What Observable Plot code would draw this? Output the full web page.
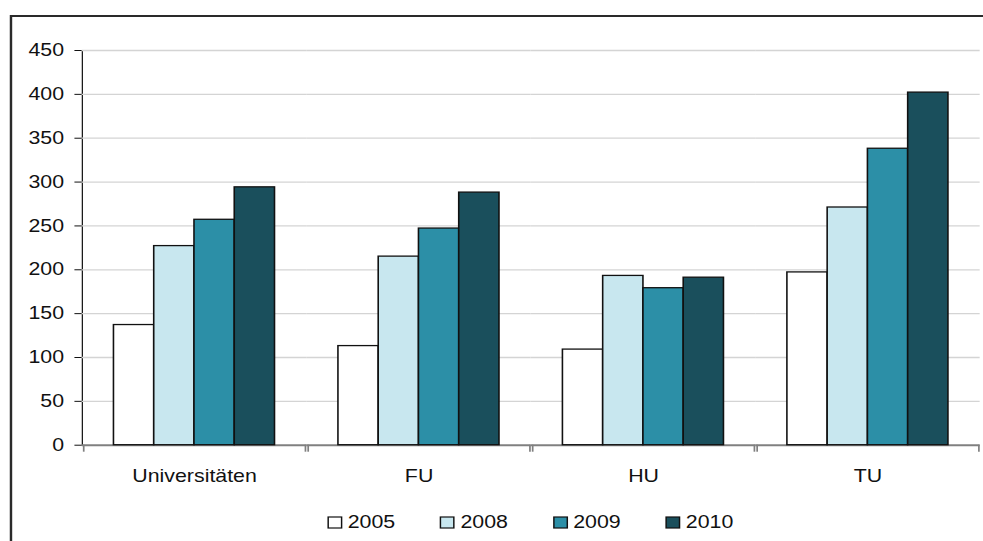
<!DOCTYPE html>
<html>
<head>
<meta charset="utf-8">
<script src="https://cdn.jsdelivr.net/npm/d3@7"></script>
<script src="https://cdn.jsdelivr.net/npm/@observablehq/plot@0.6"></script>
<style>
  html, body { margin: 0; padding: 0; background: #fff; overflow: hidden; }
  #wrap { position: relative; width: 806px; height: 541px; transform: scaleX(1.22); transform-origin: 0 0; font-family: "Liberation Sans", Arial, sans-serif; }
  #frame { position: absolute; left: 7.8px; top: 14.5px; width: 900px; height: 600px; border: 2px solid #2a2a2a; box-sizing: border-box; }
  #chart { position: absolute; left: 0; top: 0; }
  #legend { position: absolute; left: 269px; top: 512px; }
  .lg-swatches { margin: 0 !important; min-height: 0 !important; font-size: 17.5px !important; font-family: "Liberation Sans", Arial, sans-serif !important; color: #111 !important; flex-wrap: nowrap !important; }
  .lg-swatch { width: 92.4px; margin: 0 !important; }
  .lg-swatch svg { margin-right: 5px !important; overflow: visible; }
  .lg-swatch svg rect { stroke: #111; stroke-width: 1.2px; }
</style>
</head>
<body>
<div id="wrap">
  <div id="frame"></div>
  <div id="chart"></div>
  <div id="legend"></div>
</div>
<script>
const categories = ["Universitäten", "FU", "HU", "TU"];
const years = ["2005", "2008", "2009", "2010"];
const values2005 = [137, 113, 109, 197];
const values2008 = [227, 215, 193, 271];
const values2009 = [257, 247, 179, 338];
const values2010 = [294, 288, 191, 402];
const yearColors = ["#ffffff", "#c8e7ef", "#2c8fa7", "#1a4f5c"];
const yTicks = [0, 50, 100, 150, 200, 250, 300, 350, 400, 450];

const series = [values2005, values2008, values2009, values2010];
const data = categories.flatMap((c, i) => years.map((y, j) => ({category: c, year: y, value: series[j][i]})));

const W = 806, H = 495, mL = 66, mR = 2, mT = 50, mB = 50.3;
const padOuter = 0.72;
const facetW = (W - mL - mR) / categories.length;
const step = facetW / (years.length + 2 * padOuter);
const edge = (padOuter + 0.5) * step;

const chart = Plot.plot({
  width: W,
  height: H,
  marginLeft: mL,
  marginRight: mR,
  marginTop: mT,
  marginBottom: mB,
  style: {fontFamily: '"Liberation Sans", Arial, sans-serif', fontSize: "17.5px", color: "#111", background: "transparent"},
  fx: {domain: categories, padding: 0, label: null, tickSize: 0, tickPadding: 24.5, axis: "bottom"},
  x: {domain: years, paddingInner: 0, paddingOuter: padOuter, axis: null},
  y: {domain: [0, 450], ticks: yTicks, tickSize: 6, tickPadding: 9, label: null, line: true},
  color: {domain: years, range: yearColors},
  marks: [
    Plot.ruleY(yTicks.slice(1), {stroke: "#d4d4d4", strokeWidth: 1.3}),
    Plot.ruleY([0], {stroke: "#808080", strokeWidth: 2}),
    Plot.barY(data, {fx: "category", x: "year", y: "value", fill: "year", stroke: "#111", strokeWidth: 1.3}),
    Plot.ruleX([years[0]], {x: d => d, y1: 0, y2: 0, insetBottom: -7, dx: -edge, stroke: "#808080", strokeWidth: 1.4}),
    Plot.ruleX([years[years.length - 1]], {x: d => d, y1: 0, y2: 0, insetBottom: -7, dx: edge, stroke: "#808080", strokeWidth: 1.4})
  ]
});
document.getElementById("chart").appendChild(chart);
document.getElementById("legend").appendChild(chart.legend("color", {swatchSize: 11, className: "lg"}));
</script>
</body>
</html>
